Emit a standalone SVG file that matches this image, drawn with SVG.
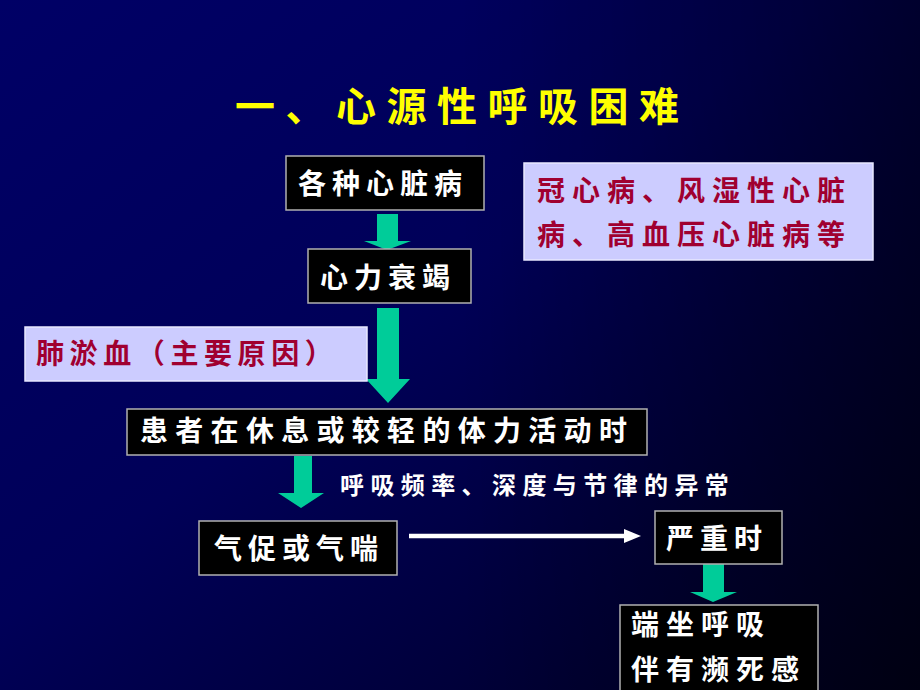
<svg xmlns="http://www.w3.org/2000/svg" width="920" height="690" viewBox="0 0 920 690">
<defs>
<linearGradient id="bg" x1="0" y1="0" x2="1" y2="1">
<stop offset="0" stop-color="#000066"/>
<stop offset="0.45" stop-color="#000058"/>
<stop offset="1" stop-color="#000020"/>
</linearGradient>
<linearGradient id="bg2" x1="0" y1="0" x2="1" y2="0">
<stop offset="0.5" stop-color="#000000" stop-opacity="0"/>
<stop offset="1" stop-color="#000000" stop-opacity="0.45"/>
</linearGradient>
</defs>
<style>
.box{fill:#000000;stroke:#B0B0B0;stroke-width:1.5}
.note{fill:#CCCCFF;stroke:#E8E8FF;stroke-width:1.5}
.t{font-family:"Noto Sans CJK SC","Noto Sans CJK TC",sans-serif;font-weight:bold;font-size:28px;letter-spacing:6px;fill:#FFFFFF}
.r{fill:#A00030}
.g{fill:#00CC99}
</style>
<rect x="0" y="0" width="920" height="690" fill="url(#bg)"/>
<rect x="0" y="0" width="920" height="690" fill="url(#bg2)"/>
<text x="235" y="121" font-family="Noto Sans CJK SC, sans-serif" font-weight="bold" font-size="40" letter-spacing="10.5" fill="#FFFF00">一、心源性呼吸困难</text>
<g id="connectors">
<path class="g" d="M377,214 H398 V241 H411 L387,250 L364,241 H377 Z"/>
<path class="g" d="M377,308 H399 V379 H410 L388,403 L366,379 H377 Z"/>
<path class="g" d="M294,456 H312 V493 H324 L301,508 L278,493 H294 Z"/>
<path class="g" d="M703,564 H724 V592 H737 L713,602 L690,592 H703 Z"/>
<line x1="409" y1="536" x2="627" y2="536" stroke="#FFFFFF" stroke-width="4.5"/>
<path d="M624,529 L641,536 L624,543 Z" fill="#FFFFFF"/>
<text class="t" x="340" y="494" style="font-size:24px;letter-spacing:6.4px">呼吸频率、深度与节律的异常</text>
</g>
<g id="n1"><rect class="box" x="286" y="156" width="198" height="54"/><text class="t" x="298" y="194">各种心脏病</text></g>
<g id="n2"><rect class="box" x="308" y="249" width="163" height="54"/><text class="t" x="320" y="288">心力衰竭</text></g>
<g id="note1"><rect class="note" x="524" y="163" width="349" height="97"/><text class="t r" x="537" y="201" style="letter-spacing:7px">冠心病、风湿性心脏</text><text class="t r" x="537" y="245" style="letter-spacing:7px">病、高血压心脏病等</text></g>
<g id="note2"><rect class="note" x="25" y="327" width="342" height="54"/><text class="t r" x="36" y="364" style="letter-spacing:5.6px">肺淤血（主要原因）</text></g>
<g id="n3"><rect class="box" x="127" y="409" width="520" height="46"/><text class="t" x="140" y="441" style="letter-spacing:7.3px">患者在休息或较轻的体力活动时</text></g>
<g id="n4"><rect class="box" x="199" y="521" width="198" height="54"/><text class="t" x="214" y="559">气促或气喘</text></g>
<g id="n5"><rect class="box" x="655" y="511" width="127" height="53"/><text class="t" x="666" y="549">严重时</text></g>
<g id="n6"><rect class="box" x="620" y="605" width="198" height="90"/><text class="t" x="631" y="635" style="letter-spacing:7px">端坐呼吸</text><text class="t" x="631" y="680" style="letter-spacing:7px">伴有濒死感</text></g>
</svg>
